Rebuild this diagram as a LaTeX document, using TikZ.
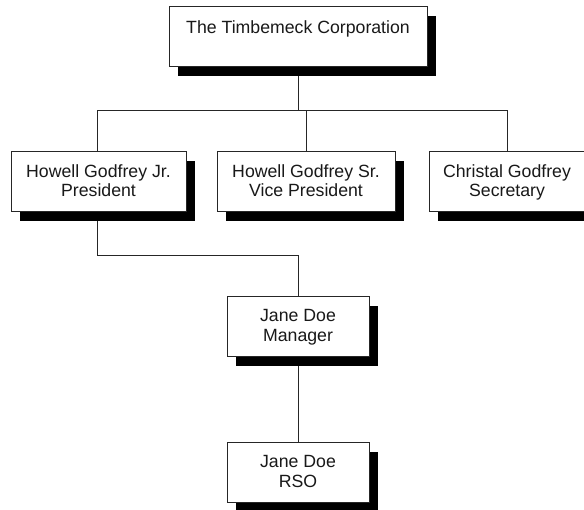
\documentclass[tikz,border=0pt]{standalone}
\usepackage{fontspec}
\setmainfont{Liberation Sans}
\usetikzlibrary{shadows}
\begin{document}
\begin{tikzpicture}[x=1pt,y=-1pt,
  orgbox/.style={draw=black!85, line width=1pt, fill=white, minimum height=60pt, inner sep=0pt,
    drop shadow={shadow xshift=8.5pt, shadow yshift=-9.5pt, fill=black, opacity=1}},
  orgtxt/.style={anchor=north, inner sep=0pt, align=center, text=black!90,
    font=\fontsize{17.7}{19.5}\selectfont},
  conn/.style={draw=black!85, line width=1pt}]
\clip (0,0) rectangle (584,510);
\fill[white] (0,0) rectangle (584,510);
% junction coordinates
\coordinate (bus) at (298,111);
% connectors (behind boxes)
\node[minimum width=258pt, minimum height=60pt, inner sep=0pt] (topc) at (298,37) {};
\node[minimum width=175pt, minimum height=60pt, inner sep=0pt] (presc) at (98.5,182) {};
\node[minimum width=178pt, minimum height=60pt, inner sep=0pt] (vpc) at (306,182) {};
\node[minimum width=156pt, minimum height=60pt, inner sep=0pt] (secc) at (507,182) {};
\node[minimum width=142pt, minimum height=60pt, inner sep=0pt] (mgrc) at (298,327) {};
\node[minimum width=142pt, minimum height=60pt, inner sep=0pt] (rsoc) at (298,473) {};
\coordinate (pturn) at (97,256);
\draw[conn] (topc.south) -- (bus);
\draw[conn] (bus) -| (97,152);
\draw[conn] (bus) -| (vpc.north);
\draw[conn] (bus) -| (secc.north);
\draw[conn] (97,212) -- (pturn) -| (mgrc.north);
\draw[conn] (mgrc.south) -- (rsoc.north);
% boxes
\node[orgbox, minimum width=258pt] (top) at (298,37) {};
\node[orgbox, minimum width=175pt] (pres) at (98.5,182) {};
\node[orgbox, minimum width=178pt] (vp) at (306,182) {};
\node[orgbox, minimum width=156pt] (sec) at (507,182) {};
\node[orgbox, minimum width=142pt] (mgr) at (298,327) {};
\node[orgbox, minimum width=142pt] (rso) at (298,473) {};
% texts
\node[orgtxt] (toptext) at ([yshift=-13.5pt]top.north) {The Timbemeck Corporation};
\node[orgtxt] (prestext) at ([yshift=-12.5pt]pres.north) {Howell Godfrey Jr.\\President};
\node[orgtxt] (vptext) at ([yshift=-12.5pt]vp.north) {Howell Godfrey Sr.\\Vice President};
\node[orgtxt] (sectext) at ([yshift=-12.5pt]sec.north) {Christal Godfrey\\Secretary};
\node[orgtxt] (mgrtext) at ([yshift=-13pt]mgr.north) {Jane Doe\\Manager};
\node[orgtxt] (rsotext) at ([yshift=-13pt]rso.north) {Jane Doe\\RSO};
\end{tikzpicture}
\end{document}
